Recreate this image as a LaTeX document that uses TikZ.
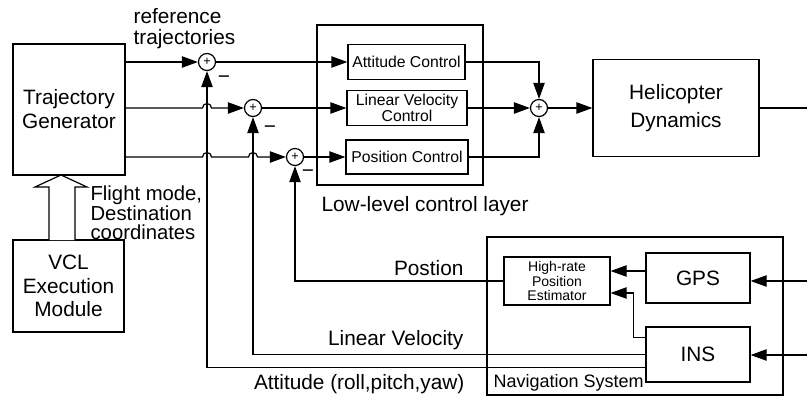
\documentclass[tikz,border=0pt]{standalone}
\usepackage{fontspec}
\setmainfont{Liberation Sans}
\usetikzlibrary{arrows.meta,calc}

\begin{document}
\begin{tikzpicture}[x=0.75pt,y=-0.75pt,line width=0.9pt,
  block/.style={draw,rectangle,inner sep=0pt,align=center},
  sumnode/.style={draw,circle,fill=white,inner sep=0pt,minimum size=12.75pt,font=\fontsize{9.5}{9.5}\selectfont},
  arr/.style={-{Triangle[length=12pt,width=8.5pt]}},
  lbl/.style={inner sep=0pt,font=\fontsize{15.6}{16}\selectfont}]
  \useasboundingbox (0,0) rectangle (807,397);

  % left side
  \node[block,minimum width=84pt,minimum height=98.25pt,font=\fontsize{15.6}{18}\selectfont] (tg) at (69,109.5) {Trajectory\\Generator};
  \node[block,minimum width=83.25pt,minimum height=69pt,font=\fontsize{15.6}{17.5}\selectfont] (vcl) at (68.5,286) {VCL\\Execution\\Module};
  \draw[fill=white] (49,240) -- (49,187) -- (35,187) -- (61,175) -- (87,187) -- (75,187) -- (75,240);
  \node[lbl,anchor=west,align=left,font=\fontsize{15.2}{14.6}\selectfont] (modetxt) at (90,213) {Flight mode,\\Destination\\coordinates};
  \node[lbl,anchor=west,align=left,font=\fontsize{15.6}{15.75}\selectfont] (reftxt) at (133,28.5) {reference\\trajectories};

  % low-level control layer
  \node[block,minimum width=124.5pt,minimum height=120pt] (llc) at (400,105) {};
  \node[lbl,anchor=west] (lltxt) at (321,206.5) {Low-level control layer};
  \node[block,minimum width=87.75pt,minimum height=26.25pt,font=\fontsize{11.8}{12}\selectfont] (att) at (406.5,62) {Attitude Control};
  \node[block,minimum width=90pt,minimum height=26.25pt,font=\fontsize{11.8}{12.3}\selectfont] (lvc) at (407,108) {Linear Velocity\\Control};
  \node[block,minimum width=91.5pt,minimum height=25.5pt,font=\fontsize{11.8}{12}\selectfont] (pos) at (407,157) {Position Control};

  \node[sumnode] (s1) at (207,62) {+};
  \node[sumnode] (s2) at (253,108) {+};
  \node[sumnode] (s3) at (295,157) {+};
  \node[sumnode] (s4) at (539,108) {+};
  \node[lbl] (m1) at (224,80) {−};
  \node[lbl] (m2) at (270,130) {−};
  \node[lbl] (m3) at (308,174) {−};

  \node[block,minimum width=124.5pt,minimum height=72.75pt,font=\fontsize{15.6}{21}\selectfont] (heli) at (676,108) {Helicopter\\Dynamics};
  \coordinate (hout) at (807,108);

  % navigation system
  \node[block,minimum width=222pt,minimum height=118.5pt] (nav) at (635,316) {};
  \node[lbl,anchor=west,font=\fontsize{13.5}{14}\selectfont] (navtxt) at (493,383) {Navigation System};
  \node[block,minimum width=79.5pt,minimum height=36pt,font=\fontsize{10.5}{11}\selectfont] (est) at (557,281) {High-rate\\Position\\Estimator};
  \node[block,minimum width=78pt,minimum height=37.5pt,font=\fontsize{15.6}{16}\selectfont] (gps) at (698,278) {GPS};
  \node[block,minimum width=78pt,minimum height=41.25pt,font=\fontsize{15.6}{16}\selectfont] (ins) at (698,354.5) {INS};
  \coordinate (gpsin) at (807,281);
  \coordinate (insin) at (807,355);

  \node[lbl,anchor=east] (postxt) at (464,268.5) {Postion};
  \node[lbl,anchor=east] (veltxt) at (464,340.5) {Linear Velocity};
  \node[lbl,anchor=east] (atttxt) at (465,384) {Attitude (roll,pitch,yaw)};

  % forward paths
  \draw[arr] (tg.east |- s1) -- (s1);
  \draw[arr] (tg.east |- s2) -- ($(s1 |- s2)+(-4.5,0)$) arc[start angle=180,end angle=360,radius=4.5] -- (s2);
  \draw[arr] (tg.east |- s3) -- ($(s1 |- s3)+(-4.5,0)$) arc[start angle=180,end angle=360,radius=4.5]
    -- ($(s2 |- s3)+(-4.5,0)$) arc[start angle=180,end angle=360,radius=4.5] -- (s3);
  \draw[arr] (s1) -- (att);
  \draw[arr] (s2) -- (lvc);
  \draw[arr] (s3) -- (pos);
  \draw[arr] (att.east) -| (s4.north);
  \draw[arr] (lvc) -- (s4);
  \draw[arr] (pos.east) -| (s4.south);
  \draw[arr] (s4) -- (heli);
  \draw (heli.east) -- (hout);

  % feedback
  \draw[arr] (gpsin) -- (gps.east |- gpsin);
  \draw[arr] (insin) -- (ins.east |- insin);
  \draw[arr] ([yshift=5.25pt]gps.west) -- ([yshift=5.25pt]gps.west -| est.east);
  \draw[arr] ([yshift=13pt]ins.west) -- ++(-12,0) |- ([yshift=-9pt]est.east);
  \draw[arr] (est.west) -| (s3.south);
  \draw[arr] (ins.west) -| (s2.south);
  \draw[arr] ([yshift=-10pt]ins.west) -| (s1.south);
\end{tikzpicture}
\end{document}
